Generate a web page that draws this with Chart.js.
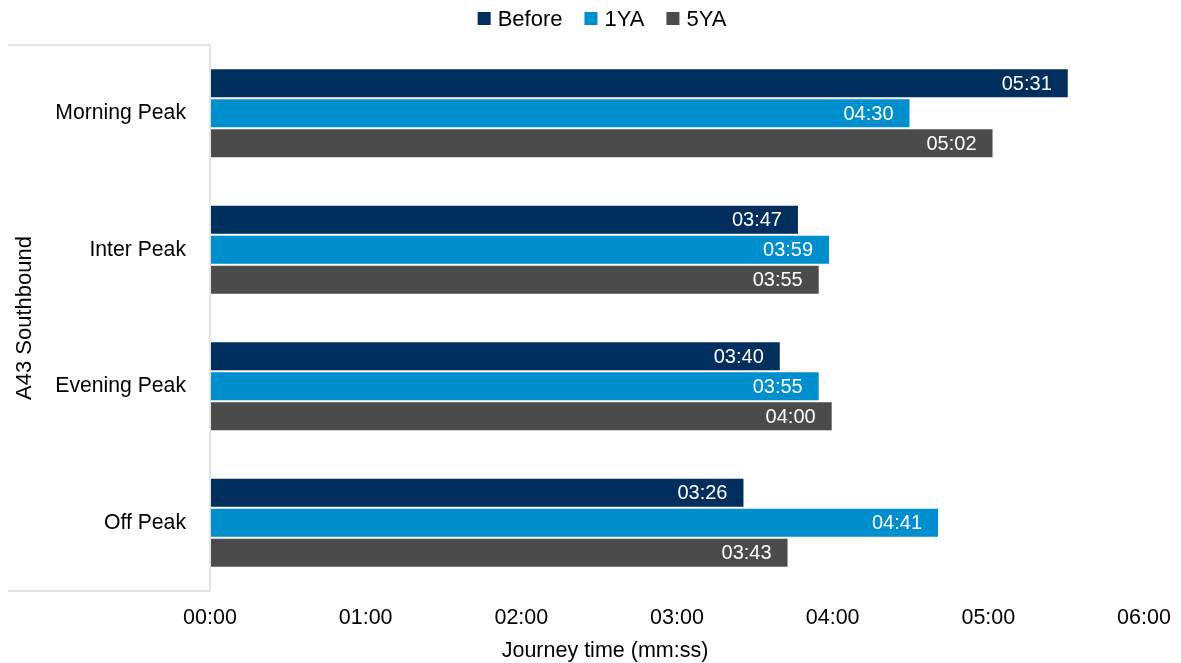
<!DOCTYPE html>
<html>
<head>
<meta charset="utf-8">
<script src="https://cdn.jsdelivr.net/npm/chart.js@4.4.1/dist/chart.umd.min.js"></script>
<style>
  html, body { margin: 0; padding: 0; background: #ffffff; }
  #wrap { width: 1181px; height: 663px; }
</style>
</head>
<body>
<div id="wrap"><canvas id="chart"></canvas></div>
<script>
// Journey times in seconds, A43 southbound
const periods = ['Morning Peak', 'Inter Peak', 'Evening Peak', 'Off Peak'];
const before = [331, 227, 220, 206];
const oneYearAfter = [270, 239, 235, 281];
const fiveYearsAfter = [302, 235, 240, 223];
const axisTicks = [0, 60, 120, 180, 240, 300, 360];
const xTitle = 'Journey time (mm:ss)';

const FONT = "'Liberation Sans', Arial, sans-serif";

function mmss(sec) {
  const m = Math.floor(sec / 60);
  const s = Math.round(sec - m * 60);
  return String(m).padStart(2, '0') + ':' + String(s).padStart(2, '0');
}

// Value labels drawn inside the end of each bar
const barLabels = {
  id: 'barLabels',
  afterDatasetsDraw(chart) {
    const ctx = chart.ctx;
    ctx.save();
    ctx.font = '20px ' + FONT;
    ctx.fillStyle = '#ffffff';
    ctx.textAlign = 'right';
    ctx.textBaseline = 'middle';
    chart.data.datasets.forEach((ds, i) => {
      const meta = chart.getDatasetMeta(i);
      if (meta.hidden) return;
      meta.data.forEach((bar, j) => {
        ctx.fillText(mmss(ds.data[j]), bar.x - 17, bar.y + 1);
      });
    });
    ctx.restore();
  }
};

// Compact series key across the top, built from the datasets
const seriesKey = {
  id: 'seriesKey',
  afterDraw(chart) {
    const ctx = chart.ctx;
    const box = 13, boxGap = 7, itemGap = 22, cy = 18.5, centre = 602;
    ctx.save();
    ctx.font = '22px ' + FONT;
    ctx.textBaseline = 'middle';
    ctx.textAlign = 'left';
    const items = chart.data.datasets.map(ds => ({
      text: ds.label,
      color: ds.backgroundColor,
      w: ctx.measureText(ds.label).width
    }));
    const total = items.reduce((s, it) => s + box + boxGap + it.w, 0) + itemGap * (items.length - 1);
    let x = centre - total / 2;
    items.forEach(it => {
      ctx.fillStyle = it.color;
      ctx.fillRect(x, cy - box / 2, box, box);
      x += box + boxGap;
      ctx.fillStyle = '#000000';
      ctx.fillText(it.text, x, cy + 1);
      x += it.w + itemGap;
    });
    ctx.restore();
  }
};

// Open frame around the category label column, plus the value-axis title
const labelFrame = {
  id: 'labelFrame',
  afterDraw(chart) {
    const a = chart.chartArea;
    const ctx = chart.ctx;
    ctx.save();
    ctx.strokeStyle = '#dcdcdc';
    ctx.lineWidth = 1.5;
    ctx.beginPath();
    ctx.moveTo(8, a.top);
    ctx.lineTo(a.left, a.top);
    ctx.lineTo(a.left, a.bottom);
    ctx.lineTo(8, a.bottom);
    ctx.stroke();

    ctx.font = '21.5px ' + FONT;
    ctx.fillStyle = '#000000';
    ctx.textAlign = 'center';
    ctx.textBaseline = 'middle';
    ctx.fillText(xTitle, 605, 651);
    ctx.restore();
  }
};

new Chart(document.getElementById('chart'), {
  type: 'bar',
  data: {
    labels: periods,
    datasets: [
      { label: 'Before', data: before, backgroundColor: '#002e5d' },
      { label: '1YA', data: oneYearAfter, backgroundColor: '#008fce' },
      { label: '5YA', data: fiveYearsAfter, backgroundColor: '#4b4b4b' }
    ]
  },
  options: {
    indexAxis: 'y',
    responsive: true,
    maintainAspectRatio: false,
    animation: false,
    layout: { padding: { left: 0, right: 37, top: 45, bottom: 0 } },
    datasets: {
      bar: {
        categoryPercentage: 0.66,
        barPercentage: 1,
        borderWidth: 1,
        borderColor: 'rgba(255,255,255,0.35)',
        borderSkipped: false
      }
    },
    plugins: {
      legend: { display: false },
      tooltip: { enabled: false }
    },
    scales: {
      x: {
        min: 0,
        max: 360,
        afterBuildTicks(scale) {
          scale.ticks = axisTicks.map(v => ({ value: v }));
        },
        afterFit(scale) {
          scale.height = 72;
          scale.paddingLeft = 0;
          scale.paddingRight = 0;
        },
        grid: { display: false, drawTicks: false },
        border: { display: false },
        ticks: {
          font: { family: FONT, size: 21.5 },
          color: '#000000',
          padding: 14,
          callback: v => mmss(v)
        },
        title: { display: false }
      },
      y: {
        afterFit(scale) { scale.width = 210; },
        grid: { display: false, drawTicks: false },
        border: { display: false },
        ticks: {
          font: { family: FONT, size: 21.2 },
          color: '#000000',
          padding: 24
        },
        title: {
          display: true,
          text: 'A43 Southbound',
          font: { family: FONT, size: 22 },
          color: '#000000',
          padding: { top: 12, bottom: 0 }
        }
      }
    }
  },
  plugins: [barLabels, seriesKey, labelFrame]
});
</script>
</body>
</html>
